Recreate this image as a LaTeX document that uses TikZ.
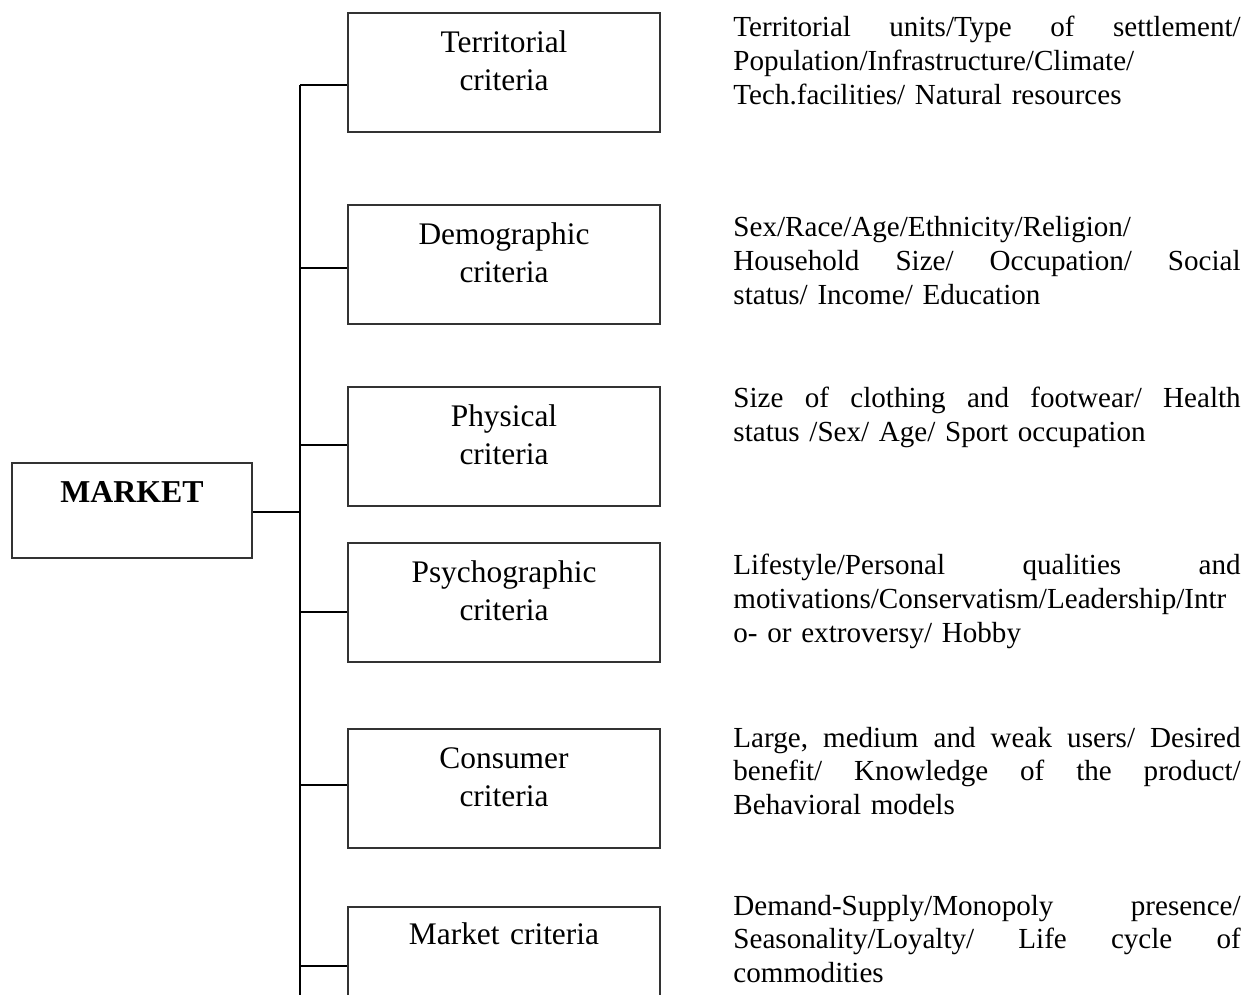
\documentclass[tikz,border=0pt]{standalone}
\usepackage{fontspec}
\setmainfont{Liberation Serif}
\usetikzlibrary{positioning}
\hbadness=10000
\tikzset{
  critbox/.style = {draw=black!80,line width=0.8pt,minimum width=4.992cm,
                    minimum height=1.904cm,inner sep=0pt},
  mktbox/.style  = {draw=black!80,line width=0.8pt,minimum width=3.84cm,
                    minimum height=1.52cm,inner sep=0pt},
  crittxt/.style = {anchor=base,text width=4.9cm,align=center,inner sep=0pt,
                    font=\fontsize{14.3}{16.9}\selectfont},
  mkttxt/.style  = {anchor=base,inner sep=0pt,font=\fontsize{14.5}{17}\selectfont\bfseries},
  desctxt/.style = {anchor=base west,text width=231pt,align=left,inner sep=0pt,
                    font=\fontsize{13.25}{15.3}\selectfont},
  link/.style    = {line width=0.9pt,black}
}
% box, its label and the branch from the spine
\newcommand{\critnode}[5]{%
  \node[critbox,anchor=north] (#1) at (504,#2) {};
  \node[crittxt] (#1-t) at (504,#2+#4) {#5};
  \coordinate (#1-s) at (300,#3);
  \draw[link] (#1-s) -- (#1-s -| #1.west);
}
% description to the right; \jline spreads a line to full width
\newcommand{\jline}[1]{\leavevmode\hbox to 231pt{#1}}
\newcommand{\critdesc}[3]{%
  \node[desctxt] (#1) at (733,#2) {#3};
}

\begin{document}
\begin{tikzpicture}[x=0.016cm,y=-0.016cm]
  \useasboundingbox (0,0) rectangle (1247,995);
  \clip (0,0) rectangle (1247,995);
  % root
  \node[mktbox] (market) at (132,510.5) {};
  \node[mkttxt] (market-t) at (132,503) {MARKET};
  \coordinate (spine-top) at (300,85);
  \coordinate (spine-bot) at (300,1000);
  \coordinate (market-s) at (300,512);
  \draw[link] (spine-top) -- (spine-bot);
  \draw[link] (market-s) -- (market-s -| market.east);
  % criteria
  \critnode{ter}{12}{85}{41}{Territorial\\criteria}
  \critnode{dem}{204}{268}{41}{Demographic\\criteria}
  \critnode{phy}{386}{445}{41}{Physical\\criteria}
  \critnode{psy}{542}{612}{41}{Psychographic\\criteria}
  \critnode{con}{728}{785}{41}{Consumer\\criteria}
  \critnode{mar}{906}{966}{38}{Market criteria}
  % descriptions
  \critdesc{ter-d}{37}{\jline{Territorial\hfill units/Type\hfill of\hfill settlement/}\\
    Population/Infrastructure/Climate/\\ Tech.facilities/ Natural resources}
  \critdesc{dem-d}{237}{Sex/Race/Age/Ethnicity/Religion/\\
    \jline{Household\hfill Size/\hfill Occupation/\hfill Social}\\ status/ Income/ Education}
  \critdesc{phy-d}{408}{\jline{Size\hfill of\hfill clothing\hfill and\hfill footwear/\hfill Health}\\
    status /Sex/ Age/ Sport occupation}
  \critdesc{psy-d}{575}{\jline{Lifestyle/Personal\hfill qualities\hfill and}\\
    motivations/Conservatism/Leadership/Intr\\ o- or extroversy/ Hobby}
  \critdesc{con-d}{747}{\jline{Large,\hfill medium\hfill and\hfill weak\hfill users/\hfill Desired}\\
    \jline{benefit/\hfill Knowledge\hfill of\hfill the\hfill product/}\\ Behavioral models}
  \critdesc{mar-d}{915}{\jline{Demand-Supply/Monopoly\hfill presence/}\\
    \jline{Seasonality/Loyalty/\hfill Life\hfill cycle\hfill of}\\ commodities}
\end{tikzpicture}
\end{document}
